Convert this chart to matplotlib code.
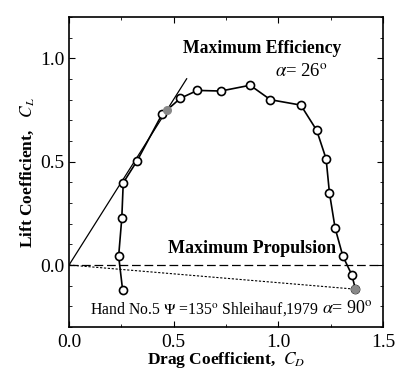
import numpy as np
import matplotlib.pyplot as plt
from matplotlib.ticker import MultipleLocator

plt.rcParams['font.family'] = ['Liberation Serif', 'DejaVu Serif']
plt.rcParams['mathtext.fontset'] = 'stix'

# drag / lift coefficients along the hand curve (alpha from 0 to 90 deg)
cd = [0.256, 0.237, 0.252, 0.259, 0.325, 0.444, 0.532, 0.613, 0.725, 0.865,
      0.962, 1.107, 1.183, 1.228, 1.244, 1.271, 1.308, 1.351, 1.368]
cl = [-0.121, 0.043, 0.226, 0.398, 0.504, 0.729, 0.807, 0.845, 0.842, 0.870,
      0.800, 0.774, 0.652, 0.514, 0.349, 0.179, 0.043, -0.048, -0.117]

# max efficiency point (alpha=26) and max propulsion (alpha=90)
eff_cd, eff_cl = 0.467, 0.749
prop_cd, prop_cl = 1.368, -0.117
tangent_end = 0.562

fig = plt.figure(figsize=(3.99, 3.71), dpi=100)
ax = fig.add_axes([0.173, 0.1186, 0.787, 0.8354])

slope = eff_cl / eff_cd
ax.plot([0, tangent_end], [0, tangent_end * slope], color='k', lw=0.9)
ax.plot([0, 1.5], [0, 0], color='k', lw=0.9, dashes=(7, 3))
ax.plot([0, prop_cd], [0, prop_cl], color='k', lw=0.8, dashes=(2, 1.5))

ax.plot(cd, cl, color='k', lw=1.2, marker='o', ms=5.8, mfc='white',
        mec='k', mew=1.2, zorder=3)
ax.plot([eff_cd, prop_cd], [eff_cl, prop_cl], ls='none', marker='o', ms=5.5,
        mfc='#888888', mec='#888888', zorder=4)

ax.set_xlim(0, 1.5)
ax.set_ylim(-0.3, 1.2)
ax.xaxis.set_minor_locator(MultipleLocator(0.25))
ax.yaxis.set_minor_locator(MultipleLocator(0.1))
ax.set_xticks([0, 0.5, 1.0, 1.5])
ax.set_xticklabels(['0.0', '0.5', '1.0', '1.5'])
ax.set_yticks([0, 0.5, 1.0])
ax.set_yticklabels(['0.0', '0.5', '1.0'])
ax.tick_params(which='both', direction='in', top=True, right=True,
               labelsize=14)
ax.tick_params(axis='x', pad=5)
ax.tick_params(axis='y', pad=3)
ax.tick_params(which='major', length=4)
ax.tick_params(which='minor', length=2.5)
for s in ax.spines.values():
    s.set_linewidth(1.2)

ax.set_xlabel('Drag Coefficient,  $C_D$', fontsize=12.5, fontweight='bold',
              labelpad=-1)
ax.set_ylabel('Lift Coefficient,   $C_L$', fontsize=12.5, fontweight='bold',
              labelpad=3)

ax.text(0.922, 1.048, 'Maximum Efficiency', fontsize=12.7, fontweight='bold',
        ha='center', va='center')
ax.text(1.108, 0.932, r'$\alpha$= 26$^{\rm o}$', fontsize=13.5, ha='center',
        va='center')
ax.text(0.874, 0.082, 'Maximum Propulsion', fontsize=13, fontweight='bold',
        ha='center', va='center')
ax.text(0.1, -0.213, r'Hand No.5 $\Psi$ =135$^{\rm o}$ Shleihauf,1979',
        fontsize=11.3, ha='left', va='center')
ax.text(1.452, -0.21, r'$\alpha$= 90$^{\rm o}$', fontsize=13, ha='right',
        va='center')

fig.savefig('out.png', dpi=100)
